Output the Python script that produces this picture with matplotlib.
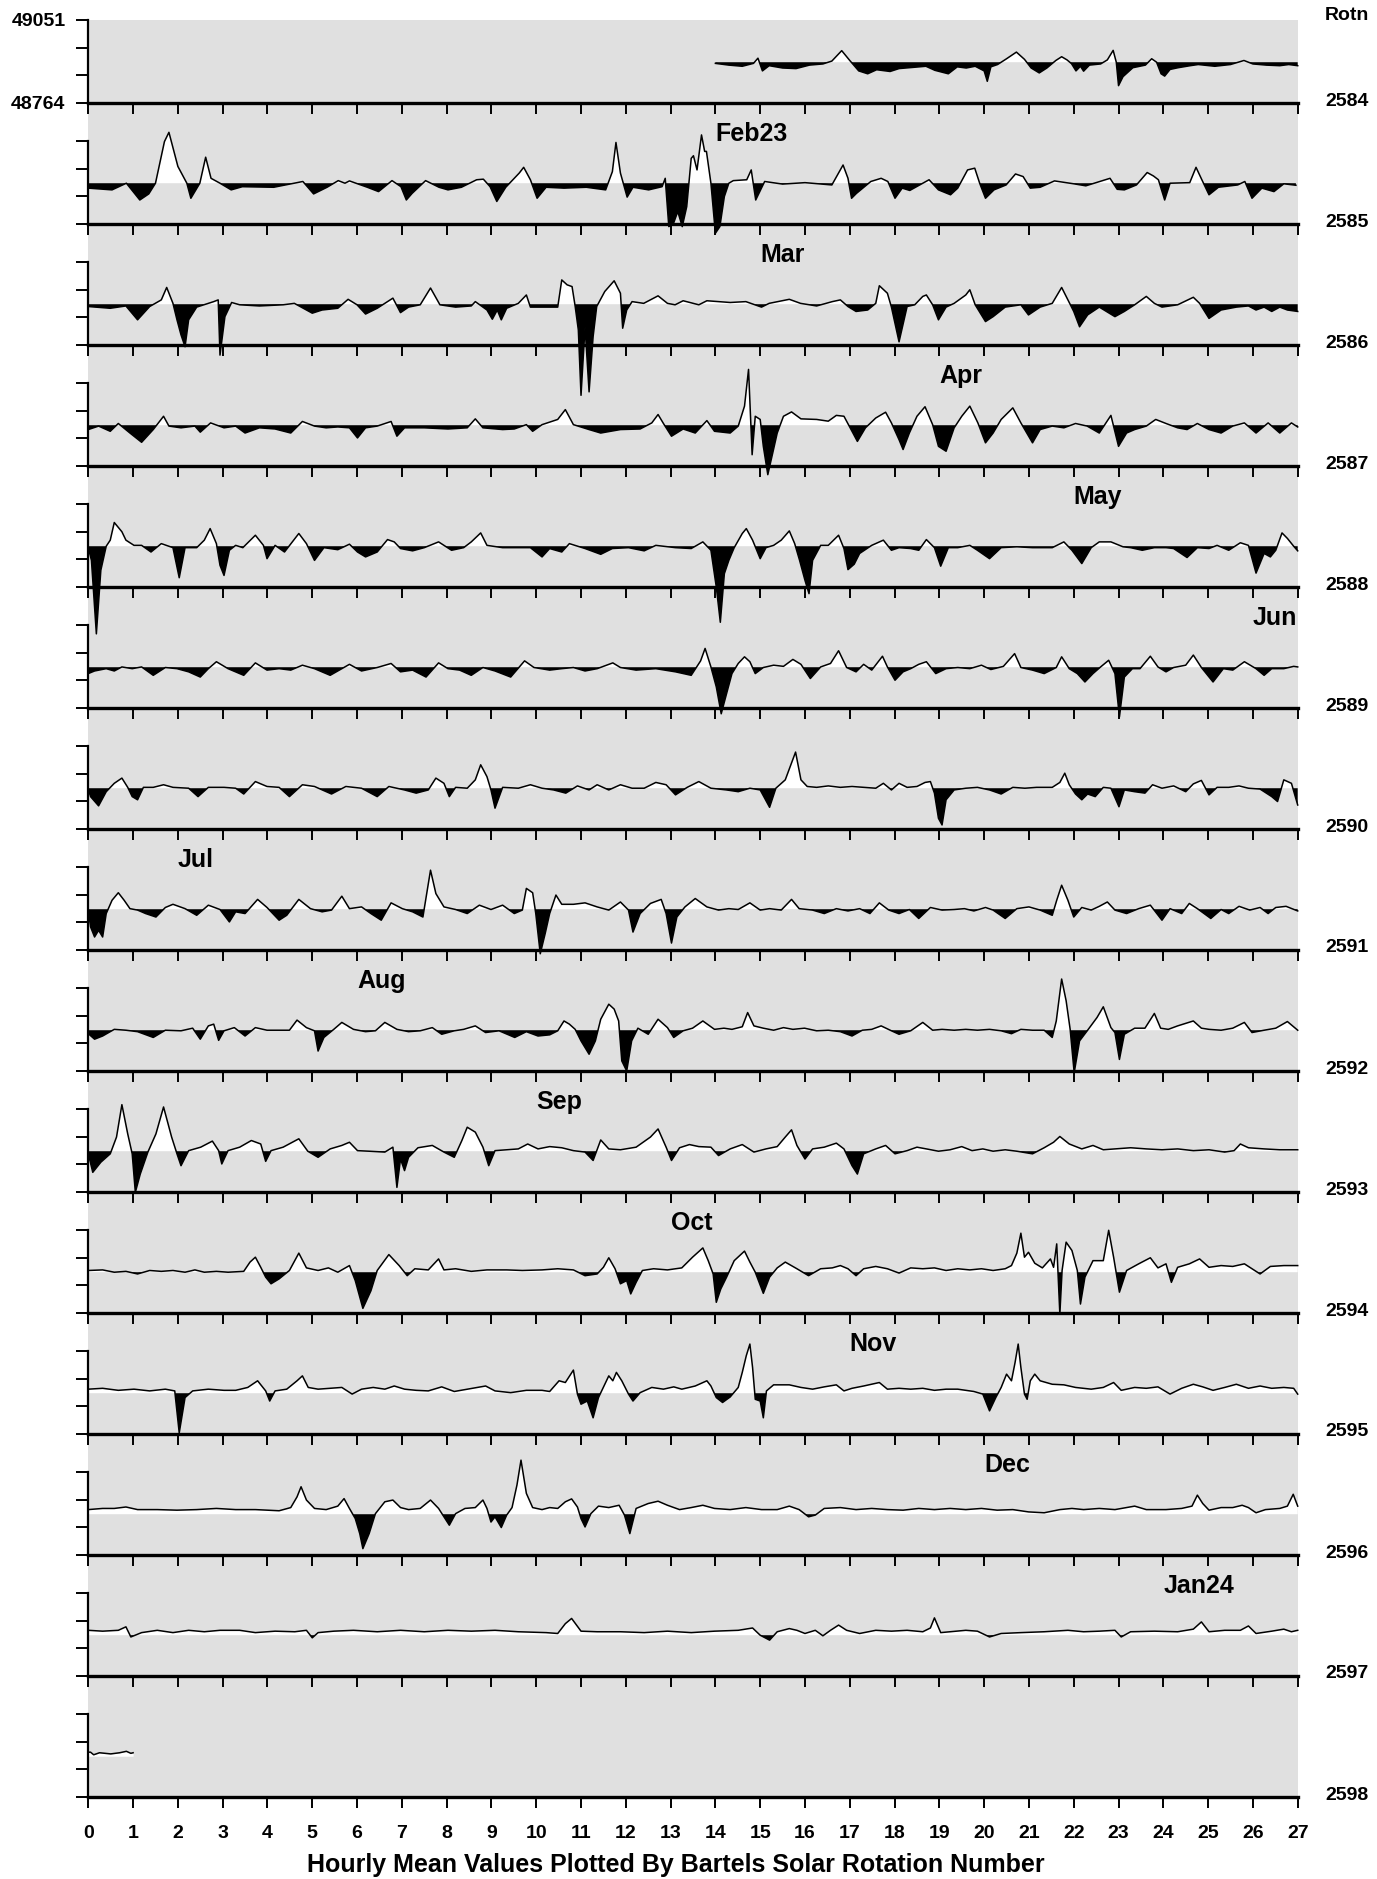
import numpy as np
import matplotlib
matplotlib.use('Agg')
import matplotlib.pyplot as plt
import matplotlib.transforms as mtransforms

plt.rcParams['font.family'] = ['Liberation Sans', 'DejaVu Sans']
plt.rcParams['font.weight'] = 'bold'

# axis scale (nT) and the quiet level the fills are drawn against
Y_LOW = 48764
Y_HIGH = 49051
BASELINE = 48905

ROTATIONS = list(range(2584, 2599))

MONTH_LABELS = ['Feb23', 'Mar', 'Apr', 'May', 'Jun', 'Jul', 'Aug', 'Sep', 'Oct', 'Nov', 'Dec', 'Jan24']
MONTH_ROTN = [2585, 2586, 2587, 2588, 2589, 2591, 2592, 2593, 2594, 2595, 2596, 2597]
MONTH_DAY = [14, 15, 19, 22, 26, 2, 6, 10, 13, 17, 20, 24]

# hourly trace: (day of rotation, deviation from baseline in nT)
rot_2584 = [(14.0, -4), (14.3, -10), (14.6, -14), (14.85, -4), (14.95, 14), (15.05, -30), (15.2, -12), (15.5, -20),
            (15.8, -22), (16.1, -10), (16.4, -6), (16.6, 4), (16.82, 40), (17.0, 6), (17.2, -30), (17.4, -40),
            (17.6, -26), (17.9, -32), (18.1, -22), (18.4, -18), (18.7, -14), (18.9, -28), (19.2, -40), (19.4, -16),
            (19.6, -20), (19.8, -14), (20.0, -30), (20.07, -66), (20.15, -16), (20.3, -8), (20.5, 12), (20.72, 35),
            (20.9, 10), (21.05, -20), (21.23, -37), (21.4, -20), (21.6, 6), (21.73, 19), (21.85, 8), (21.95, -5),
            (22.05, -30), (22.15, -14), (22.22, -31), (22.35, -10), (22.6, -6), (22.75, 8), (22.88, 41), (22.95, 0),
            (23.0, -81), (23.1, -50), (23.32, -19), (23.6, -10), (23.74, 12), (23.85, 0), (23.95, -40), (24.03, -48),
            (24.15, -25), (24.33, -19), (24.6, -12), (24.78, -8), (25.15, -14), (25.5, -8), (25.8, 6), (26.0, -6),
            (26.3, -10), (26.6, -12), (26.8, -8), (27.0, -12)]

rot_2585 = [(0, -17), (0.35, -21), (0.53, -23), (0.85, 0), (1.15, -58), (1.35, -37), (1.5, 0), (1.7, 144), (1.8, 176),
            (2.0, 58), (2.2, 0), (2.29, -52), (2.49, 0), (2.62, 90), (2.74, 17), (2.94, 0), (3.19, -23), (3.44, -12),
            (4.14, -14), (4.79, 6), (5.03, -37), (5.33, -14), (5.58, 9), (5.73, 0), (5.83, 8), (6.23, -14),
            (6.48, -29), (6.78, 9), (6.98, -12), (7.1, -58), (7.23, -35), (7.53, 9), (7.83, -14), (8.03, -23),
            (8.33, -14), (8.67, 12), (8.82, 14), (8.97, -12), (9.12, -63), (9.32, -14), (9.62, 35), (9.72, 55),
            (9.87, 12), (10.02, -52), (10.22, -14), (10.62, -17), (11.12, -14), (11.55, -23), (11.7, 40), (11.78, 141),
            (11.88, 35), (12.03, -48), (12.16, -14), (12.51, -23), (12.81, -12), (12.88, 17), (12.96, -150),
            (13.06, -141), (13.16, -98), (13.26, -150), (13.36, -81), (13.46, 86), (13.51, 95), (13.59, 46),
            (13.69, 167), (13.76, 110), (13.8, 110), (13.9, 0), (14.0, -173), (14.1, -150), (14.2, -46), (14.3, 0),
            (14.4, 9), (14.7, 12), (14.8, 46), (14.9, -58), (15.1, 6), (15.5, -3), (16.0, 2), (16.6, -6), (16.85, 63),
            (16.96, 17), (17.04, -52), (17.15, -35), (17.47, 6), (17.7, 17), (17.85, 6), (18.01, -52), (18.17, -17),
            (18.34, -25), (18.77, 12), (18.98, -23), (19.25, -40), (19.41, -17), (19.63, 46), (19.79, 52), (19.9, 0),
            (20.03, -52), (20.22, -23), (20.49, -6), (20.7, 32), (20.87, 23), (21.03, -17), (21.25, -14), (21.57, 8),
            (22.0, -2), (22.27, -9), (22.81, 17), (22.97, -21), (23.13, -23), (23.4, -6), (23.64, 37), (23.78, 25),
            (23.89, 12), (24.03, -58), (24.15, 0), (24.59, 2), (24.73, 55), (24.86, 12), (25.02, -40), (25.23, -14),
            (25.66, -6), (25.82, 6), (25.98, -52), (26.2, -17), (26.47, -29), (26.69, -2), (26.96, -7)]

rot_2586 = [(0, -8), (0.49, -14), (0.84, -6), (1.1, -54), (1.37, -8), (1.63, 15), (1.75, 58), (1.89, 3), (1.98, -54),
            (2.07, -106), (2.16, -147), (2.24, -54), (2.42, -10), (2.8, 9), (2.9, 15), (2.94, -176), (3.05, -43),
            (3.2, 6), (3.38, -2), (3.82, -6), (4.35, -2), (4.6, 3), (5.0, -31), (5.22, -20), (5.57, -14), (5.8, 17),
            (6.0, -2), (6.19, -34), (6.45, -14), (6.8, 21), (6.97, -29), (7.15, -10), (7.41, -2), (7.64, 56),
            (7.85, -2), (8.2, -10), (8.55, -6), (8.64, 9), (8.9, -20), (9.02, -52), (9.13, -20), (9.22, -54),
            (9.34, -14), (9.6, 3), (9.78, 32), (9.87, -10), (10.3, -10), (10.48, -10), (10.57, 84), (10.69, 67),
            (10.8, 61), (10.87, -8), (10.94, -89), (11.0, -315), (11.09, -78), (11.18, -303), (11.27, -112),
            (11.35, -8), (11.53, 44), (11.74, 81), (11.88, 38), (11.93, -83), (12.02, -20), (12.14, 9), (12.4, 3),
            (12.72, 29), (12.93, 3), (13.1, -2), (13.28, 12), (13.63, -2), (13.81, 12), (14.33, 6), (14.68, 9),
            (15.03, -10), (15.2, 3), (15.65, 17), (15.9, 3), (16.26, -6), (16.61, 9), (16.79, 15), (16.96, -8),
            (17.14, -25), (17.4, -20), (17.58, 3), (17.66, 64), (17.84, 38), (17.93, -10), (18.1, -130), (18.28, -8),
            (18.45, -2), (18.63, 27), (18.71, 32), (18.85, -2), (18.98, -54), (19.15, -10), (19.33, 3), (19.59, 32),
            (19.68, 50), (19.8, -2), (20.03, -60), (20.2, -43), (20.47, -10), (20.82, -2), (20.99, -37), (21.25, -10),
            (21.52, 3), (21.73, 58), (21.87, 15), (22.0, -25), (22.13, -78), (22.31, -37), (22.57, -10), (22.92, -43),
            (23.13, -25), (23.36, -2), (23.62, 27), (23.8, 3), (23.97, -10), (24.32, -2), (24.67, 24), (24.81, 3),
            (25.02, -49), (25.29, -20), (25.63, -10), (25.9, -6), (26.07, -20), (26.25, -10), (26.42, -25),
            (26.6, -10), (26.77, -20), (27.0, -25)]

rot_2587 = [(0, -15), (0.23, -3), (0.49, -21), (0.67, 6), (0.93, -27), (1.19, -59), (1.45, -15), (1.68, 31), (1.8, -3),
            (2.07, -9), (2.38, -3), (2.5, -24), (2.73, 8), (3.03, -9), (3.29, -3), (3.5, -27), (3.82, -9), (4.17, -13),
            (4.52, -27), (4.78, 13), (5.05, -3), (5.31, -9), (5.57, -6), (5.83, -9), (6.01, -44), (6.19, -9),
            (6.45, -3), (6.76, 13), (6.89, -38), (7.06, -9), (7.5, -9), (8.03, -13), (8.46, -9), (8.64, 22),
            (8.81, -9), (9.25, -15), (9.51, -13), (9.78, 2), (9.92, -21), (10.13, 2), (10.48, 20), (10.65, 54),
            (10.83, 2), (11.18, -15), (11.44, -27), (11.88, -15), (12.32, -13), (12.58, 8), (12.72, 37), (12.84, 6),
            (13.02, -38), (13.28, -13), (13.55, -27), (13.81, 16), (13.98, -21), (14.33, -27), (14.51, -3),
            (14.65, 66), (14.74, 193), (14.82, -102), (14.89, 31), (15.0, 20), (15.07, -73), (15.17, -171),
            (15.28, -96), (15.38, -27), (15.52, 31), (15.7, 46), (15.91, 22), (16.26, 20), (16.52, 14), (16.7, 34),
            (16.87, 31), (17.05, -21), (17.17, -56), (17.35, -9), (17.58, 25), (17.8, 45), (17.93, 8), (18.1, -50),
            (18.19, -84), (18.33, -27), (18.5, 31), (18.68, 64), (18.85, 2), (18.98, -73), (19.15, -90), (19.33, -9),
            (19.5, 31), (19.68, 66), (19.86, 8), (20.03, -61), (20.2, -27), (20.38, 20), (20.64, 60), (20.82, 8),
            (21.08, -61), (21.25, -15), (21.52, -3), (21.78, -9), (22.04, 6), (22.3, -3), (22.57, -27), (22.83, 34),
            (23.0, -73), (23.18, -27), (23.36, -15), (23.62, -3), (23.83, 20), (24.06, 6), (24.32, -9), (24.53, -15),
            (24.76, 6), (25.02, -15), (25.29, -27), (25.55, -3), (25.81, 8), (26.07, -27), (26.34, 8), (26.6, -27),
            (26.86, 8), (27.0, -6)]

rot_2588 = [(0, -5), (0.07, -49), (0.18, -303), (0.28, -83), (0.4, 0), (0.49, 21), (0.58, 82), (0.75, 50), (0.84, 21),
            (1.02, 3), (1.19, 3), (1.4, -20), (1.63, 9), (1.89, -5), (2.03, -109), (2.16, -5), (2.42, -5), (2.59, 21),
            (2.72, 61), (2.86, 9), (2.94, -66), (3.03, -101), (3.15, -14), (3.29, 3), (3.45, -5), (3.73, 38),
            (3.91, 3), (3.99, -43), (4.17, 3), (4.38, -20), (4.7, 44), (4.87, 9), (5.05, -49), (5.26, -5),
            (5.57, -12), (5.83, 7), (6.01, -20), (6.19, -37), (6.45, -20), (6.68, 23), (6.83, 15), (6.97, -8),
            (7.24, -16), (7.5, -5), (7.82, 15), (8.11, -14), (8.38, -5), (8.55, 15), (8.76, 46), (8.9, 3), (9.25, -5),
            (9.6, -5), (9.87, -5), (10.13, -37), (10.3, -8), (10.57, -20), (10.74, 9), (11.09, -8), (11.44, -28),
            (11.7, -8), (12.06, -5), (12.41, -16), (12.67, 3), (13.11, -5), (13.46, -8), (13.72, 15), (13.9, -14),
            (14.02, -141), (14.11, -263), (14.2, -95), (14.3, -49), (14.42, -5), (14.6, 44), (14.69, 61), (14.83, 21),
            (15.0, -43), (15.13, -5), (15.3, 3), (15.47, 21), (15.65, 53), (15.77, 9), (15.88, -49), (16.0, -118),
            (16.09, -164), (16.17, -49), (16.35, 3), (16.52, 3), (16.75, 38), (16.87, -8), (16.96, -81), (17.1, -62),
            (17.22, -25), (17.49, 3), (17.75, 21), (17.93, -14), (18.1, -5), (18.36, -8), (18.54, -14), (18.71, 23),
            (18.89, -5), (19.03, -69), (19.2, -5), (19.41, -5), (19.68, 3), (19.85, -14), (20.12, -43), (20.38, -5),
            (20.73, -2), (21.08, -5), (21.52, -5), (21.78, 15), (21.96, -14), (22.18, -60), (22.39, -5), (22.57, 15),
            (22.83, 15), (23.1, -2), (23.27, -5), (23.53, -14), (23.8, -5), (24.06, -5), (24.23, -8), (24.53, -39),
            (24.76, -5), (25.02, -8), (25.2, 3), (25.46, -14), (25.72, 12), (25.9, 3), (26.07, -93), (26.25, -25),
            (26.39, -37), (26.51, -14), (26.65, 46), (26.77, 27), (26.91, 0), (27.0, -16)]

rot_2589 = [(0, -22), (0.14, -13), (0.4, -5), (0.58, -13), (0.75, 1), (0.98, -5), (1.19, 1), (1.45, -28), (1.72, -1),
            (1.98, -5), (2.24, -16), (2.5, -34), (2.68, -5), (2.86, 19), (3.12, -5), (3.47, -28), (3.73, 15),
            (3.99, -10), (4.26, -5), (4.52, -10), (4.78, 7), (5.05, -5), (5.4, -28), (5.83, 10), (6.1, -13),
            (6.45, -1), (6.76, 13), (6.97, -16), (7.24, -10), (7.54, -34), (7.82, 15), (8.03, -5), (8.29, -10),
            (8.55, -28), (8.81, -1), (9.08, -13), (9.43, -34), (9.74, 22), (9.95, -1), (10.3, -10), (10.57, -5),
            (10.83, -1), (11.09, -13), (11.36, -5), (11.71, 15), (11.88, -1), (12.23, -10), (12.67, -5), (13.11, -16),
            (13.46, -28), (13.67, 22), (13.77, 65), (13.9, 1), (14.02, -68), (14.13, -161), (14.25, -91), (14.37, -22),
            (14.51, 13), (14.65, 36), (14.77, 19), (14.89, -22), (15.07, -1), (15.3, 7), (15.52, 3), (15.73, 27),
            (15.91, 10), (16.12, -39), (16.35, 1), (16.57, 13), (16.75, 57), (16.93, -1), (17.14, -16), (17.31, 10),
            (17.49, -10), (17.73, 38), (17.84, 1), (18.01, -45), (18.19, -16), (18.36, -5), (18.54, 10), (18.71, 19),
            (18.92, -22), (19.15, -5), (19.41, -1), (19.68, -5), (19.94, 7), (20.15, -8), (20.43, 3), (20.68, 47),
            (20.82, -1), (21.08, -10), (21.34, -22), (21.61, -1), (21.73, 36), (21.9, -5), (22.08, -22), (22.25, -51),
            (22.43, -22), (22.6, 1), (22.78, 24), (22.92, -22), (23.02, -172), (23.13, -34), (23.31, -5), (23.48, -5),
            (23.71, 38), (23.88, 1), (24.06, -16), (24.23, -1), (24.5, 7), (24.67, 42), (24.85, -1), (25.11, -51),
            (25.34, -5), (25.55, -10), (25.81, 19), (26.07, -5), (26.25, -28), (26.42, -5), (26.69, -5), (26.91, 3),
            (27.0, 1)]

rot_2590 = [(0, -3), (0.05, -29), (0.23, -61), (0.4, -12), (0.58, 17), (0.75, 35), (0.88, 3), (0.98, -29), (1.1, -40),
            (1.23, 3), (1.45, 3), (1.68, 12), (1.89, 3), (2.24, 0), (2.45, -29), (2.68, 3), (3.03, 3), (3.29, 0),
            (3.47, -20), (3.73, 23), (3.99, 6), (4.26, 3), (4.49, -29), (4.78, 12), (5.05, 6), (5.43, -20), (5.75, 6),
            (6.1, 0), (6.45, -29), (6.71, 6), (7.06, -6), (7.32, -17), (7.59, -6), (7.76, 35), (7.94, 17), (8.06, -29),
            (8.2, 3), (8.46, 0), (8.64, 29), (8.76, 81), (8.9, 40), (8.99, -6), (9.08, -69), (9.25, 3), (9.6, 0),
            (9.87, 12), (10.13, 0), (10.39, -6), (10.66, -17), (10.92, 8), (11.18, -6), (11.36, 12), (11.62, -6),
            (11.88, 12), (12.14, 0), (12.41, 0), (12.67, 20), (12.9, 12), (13.11, -23), (13.37, 3), (13.63, 23),
            (13.9, 0), (14.25, -6), (14.51, -12), (14.77, 0), (15.0, -6), (15.12, -40), (15.21, -66), (15.35, 0),
            (15.56, 29), (15.79, 125), (15.91, 29), (16.05, 6), (16.26, 3), (16.52, 8), (16.79, 3), (17.05, 6),
            (17.31, 3), (17.58, 0), (17.75, 17), (17.93, -6), (18.1, 17), (18.28, 3), (18.5, 6), (18.68, 20),
            (18.8, 23), (18.89, -17), (18.98, -104), (19.06, -127), (19.15, -40), (19.33, -6), (19.59, 0), (19.85, 3),
            (20.12, -6), (20.38, -20), (20.64, 3), (20.91, 0), (21.17, 3), (21.52, 3), (21.69, 20), (21.8, 52),
            (21.9, 12), (22.04, -20), (22.18, -40), (22.31, -20), (22.48, -29), (22.66, 3), (22.83, 0), (23.01, -64),
            (23.13, -6), (23.36, -12), (23.59, -17), (23.76, 12), (23.97, 0), (24.23, 8), (24.5, -12), (24.67, 15),
            (24.85, 27), (25.02, -23), (25.2, 3), (25.46, 3), (25.69, 8), (25.9, 0), (26.16, -3), (26.42, -29),
            (26.55, -46), (26.69, 29), (26.86, 17), (27.0, -58)]

rot_2591 = [(0, -3), (0.05, -61), (0.14, -96), (0.23, -73), (0.32, -96), (0.4, -15), (0.53, 31), (0.67, 57), (0.8, 31),
            (0.93, 2), (1.1, -3), (1.28, -15), (1.51, -27), (1.72, 6), (1.89, 17), (2.16, 2), (2.42, -21), (2.68, 14),
            (2.94, -1), (3.15, -44), (3.29, -9), (3.5, -15), (3.78, 34), (3.99, 6), (4.26, -38), (4.43, -21),
            (4.7, 34), (4.96, 2), (5.22, -9), (5.43, -3), (5.66, 45), (5.83, 2), (6.1, 8), (6.31, -15), (6.54, -38),
            (6.76, 22), (7.01, 2), (7.24, -9), (7.47, -27), (7.64, 135), (7.76, 54), (7.94, 8), (8.2, -1), (8.46, -15),
            (8.73, 14), (8.99, -1), (9.25, 14), (9.51, -15), (9.69, -3), (9.78, 72), (9.92, 57), (9.99, -15),
            (10.09, -154), (10.2, -84), (10.3, -15), (10.44, 49), (10.57, 17), (10.83, 17), (11.09, 22), (11.36, 8),
            (11.62, -3), (11.88, 25), (12.06, -3), (12.16, -79), (12.32, -15), (12.55, 20), (12.79, 34), (12.9, -15),
            (13.02, -117), (13.14, -27), (13.32, 8), (13.55, 37), (13.81, 8), (14.07, -3), (14.3, 2), (14.51, -1),
            (14.77, 22), (15.0, -3), (15.21, 2), (15.47, -3), (15.7, 34), (15.87, 2), (16.17, -3), (16.43, -15),
            (16.7, 2), (16.96, -6), (17.22, 2), (17.45, -15), (17.66, 22), (17.87, -3), (18.1, -15), (18.33, -1),
            (18.54, -32), (18.8, 6), (19.06, -3), (19.33, -1), (19.56, 2), (19.77, -6), (20.03, 6), (20.2, -3),
            (20.47, -32), (20.73, 2), (21.0, 8), (21.25, -3), (21.52, -21), (21.62, 31), (21.73, 83), (21.87, 31),
            (22.0, -27), (22.18, 6), (22.39, -3), (22.57, 10), (22.75, 25), (22.92, -3), (23.18, -15), (23.45, 2),
            (23.71, 14), (23.97, -38), (24.15, 2), (24.41, -15), (24.58, 20), (24.76, 2), (25.06, -32), (25.29, -1),
            (25.46, -15), (25.69, 10), (25.93, -3), (26.16, 6), (26.34, -15), (26.51, 6), (26.74, 10), (27.0, -6)]

rot_2592 = [(0, -12), (0.14, -31), (0.32, -20), (0.58, 3), (0.84, 0), (1.1, -5), (1.45, -25), (1.72, 0), (2.07, -2),
            (2.33, 7), (2.5, -31), (2.68, 15), (2.8, 21), (2.91, -35), (3.03, -2), (3.26, 9), (3.5, -20), (3.73, 9),
            (3.99, 0), (4.26, 0), (4.49, 0), (4.66, 35), (4.87, 9), (5.05, -2), (5.13, -72), (5.26, -25), (5.48, 3),
            (5.66, 27), (5.92, 3), (6.19, -5), (6.41, -2), (6.62, 27), (6.89, 3), (7.15, -5), (7.41, -2), (7.68, 9),
            (7.89, -14), (8.17, -2), (8.38, 3), (8.64, 15), (8.87, -8), (9.17, -2), (9.52, -25), (9.78, -5),
            (10.04, -20), (10.3, -16), (10.48, -2), (10.62, 32), (10.74, 21), (10.87, 3), (11.0, -37), (11.18, -83),
            (11.32, -37), (11.44, 38), (11.62, 90), (11.74, 73), (11.84, 32), (11.91, -106), (12.02, -141),
            (12.13, -37), (12.27, 7), (12.5, -14), (12.72, 38), (12.93, 9), (13.07, -25), (13.28, -2), (13.49, 7),
            (13.72, 32), (13.98, 3), (14.19, 7), (14.37, 3), (14.6, 12), (14.72, 61), (14.86, 15), (15.07, 7),
            (15.3, 0), (15.52, 9), (15.73, 3), (15.99, 7), (16.26, -2), (16.52, 0), (16.79, -5), (17.05, -20),
            (17.28, 0), (17.49, 3), (17.7, 15), (17.93, -2), (18.1, -14), (18.36, -2), (18.63, 27), (18.85, 0),
            (19.06, 3), (19.33, 0), (19.59, 3), (19.85, 0), (20.12, 3), (20.38, -2), (20.61, -12), (20.82, 3),
            (21.08, 0), (21.34, 0), (21.52, -25), (21.61, 32), (21.73, 177), (21.83, 102), (21.92, 3), (22.01, -147),
            (22.13, -37), (22.31, 0), (22.52, 44), (22.66, 81), (22.83, 9), (22.92, -8), (23.02, -101), (23.13, -14),
            (23.36, 7), (23.59, 7), (23.8, 58), (23.94, 7), (24.11, 3), (24.32, 15), (24.67, 32), (24.85, 7),
            (25.02, 3), (25.29, 0), (25.55, 7), (25.81, 27), (25.98, -8), (26.25, 0), (26.51, 7), (26.77, 30),
            (27.0, 0)]

rot_2593 = [(0, -9), (0.1, -73), (0.28, -38), (0.49, -9), (0.63, 49), (0.75, 161), (0.88, 60), (0.98, -9),
            (1.05, -142), (1.16, -79), (1.33, -3), (1.51, 60), (1.68, 153), (1.86, 49), (1.98, -9), (2.07, -50),
            (2.24, 2), (2.51, 14), (2.77, 35), (2.91, 2), (2.98, -44), (3.12, 2), (3.38, 14), (3.64, 37), (3.85, 25),
            (3.96, -35), (4.08, 2), (4.35, 14), (4.7, 43), (4.9, 0), (5.13, -21), (5.4, 8), (5.66, 20), (5.83, 31),
            (6.01, 2), (6.27, 0), (6.62, -3), (6.8, 14), (6.89, -125), (6.97, -27), (7.06, -67), (7.15, -21),
            (7.36, 12), (7.68, 20), (7.94, -3), (8.17, -21), (8.34, 37), (8.46, 83), (8.64, 66), (8.81, 14),
            (8.94, -50), (9.08, 2), (9.34, 5), (9.6, 8), (9.81, 25), (10.04, 8), (10.3, 16), (10.57, 12), (10.83, 2),
            (11.09, -3), (11.27, -32), (11.44, 39), (11.62, 8), (11.88, 5), (12.23, 14), (12.55, 49), (12.72, 77),
            (12.9, 14), (13.02, -32), (13.2, 12), (13.42, 23), (13.63, 16), (13.9, 14), (14.07, -15), (14.33, 8),
            (14.6, 23), (14.86, -3), (15.13, 8), (15.38, 16), (15.56, 49), (15.7, 74), (15.82, 20), (16.0, -27),
            (16.17, 8), (16.43, 14), (16.7, 28), (16.87, 8), (17.05, -50), (17.17, -79), (17.31, -9), (17.58, 8),
            (17.8, 20), (18.01, -9), (18.28, 2), (18.5, 14), (18.71, 8), (18.98, 0), (19.24, 5), (19.5, 16),
            (19.73, 2), (19.97, 8), (20.2, 0), (20.47, 5), (20.73, 0), (21.08, -9), (21.34, 12), (21.55, 31),
            (21.69, 51), (21.9, 25), (22.18, 8), (22.43, 20), (22.66, 5), (22.92, 8), (23.27, 12), (23.62, 8),
            (23.97, 5), (24.32, 8), (24.67, 2), (25.02, 5), (25.37, -3), (25.58, 2), (25.72, 25), (25.9, 12),
            (26.25, 8), (26.6, 5), (27.0, 5)]

rot_2594 = [(0, 6), (0.32, 8), (0.58, 0), (0.84, 3), (1.1, -6), (1.37, 6), (1.63, 3), (1.89, 6), (2.16, 0), (2.38, 8),
            (2.59, 0), (2.86, 3), (3.12, 0), (3.47, 3), (3.61, 35), (3.73, 52), (3.85, 17), (3.96, -17), (4.08, -40),
            (4.26, -23), (4.49, 6), (4.7, 66), (4.87, 15), (5.13, 6), (5.36, 15), (5.57, 0), (5.83, 23), (5.96, -29),
            (6.13, -125), (6.31, -64), (6.45, 6), (6.71, 61), (6.94, 23), (7.12, -12), (7.29, 12), (7.59, 8),
            (7.82, 46), (7.94, 8), (8.2, 12), (8.55, 3), (8.9, 8), (9.34, 8), (9.69, 6), (10.13, 8), (10.48, 12),
            (10.83, 8), (11.09, -12), (11.36, -6), (11.5, 17), (11.62, 50), (11.76, 12), (11.88, -40), (12.02, -29),
            (12.11, -75), (12.23, -35), (12.37, 6), (12.62, 12), (12.93, 8), (13.25, 15), (13.49, 52), (13.72, 84),
            (13.84, 40), (13.95, -6), (14.02, -104), (14.12, -58), (14.25, -17), (14.42, 40), (14.65, 73), (14.77, 35),
            (14.89, 0), (15.07, -73), (15.21, -17), (15.38, 15), (15.56, 35), (15.82, 12), (16.08, -12), (16.35, 12),
            (16.61, 15), (16.79, 23), (16.96, 12), (17.14, -12), (17.31, 12), (17.58, 20), (17.84, 12), (18.1, -3),
            (18.36, 15), (18.63, 12), (18.89, 15), (19.15, 6), (19.41, 12), (19.68, 8), (19.94, 12), (20.2, 6),
            (20.47, 12), (20.61, 23), (20.73, 66), (20.82, 135), (20.9, 52), (20.99, 69), (21.13, 31), (21.3, 15),
            (21.48, 46), (21.55, 17), (21.62, 98), (21.69, -145), (21.74, 6), (21.83, 104), (21.96, 75), (22.08, 6),
            (22.15, -110), (22.25, -17), (22.43, 40), (22.66, 40), (22.78, 145), (22.89, 52), (23.02, -69),
            (23.18, 6), (23.45, 29), (23.71, 50), (23.88, 15), (24.06, 29), (24.18, -35), (24.32, 17), (24.58, 29),
            (24.81, 46), (25.02, 17), (25.29, 23), (25.55, 20), (25.81, 29), (25.98, 12), (26.16, -6), (26.39, 20),
            (26.69, 23), (27.0, 23)]

rot_2595 = [(0, 14), (0.32, 17), (0.67, 10), (1.02, 14), (1.37, 8), (1.72, 14), (1.93, 8), (2.03, -137), (2.16, -15),
            (2.33, 8), (2.68, 14), (3.03, 10), (3.29, 10), (3.56, 20), (3.78, 43), (3.96, 8), (4.05, -27), (4.17, 8),
            (4.43, 14), (4.66, 43), (4.78, 60), (4.91, 20), (5.13, 14), (5.4, 17), (5.66, 20), (5.89, -3), (6.1, 14),
            (6.36, 20), (6.62, 14), (6.83, 25), (7.06, 14), (7.32, 10), (7.59, 8), (7.89, 22), (8.17, 6), (8.46, 14),
            (8.87, 25), (9.08, 8), (9.43, 2), (9.78, 10), (10.13, 10), (10.3, 6), (10.51, 43), (10.65, 37),
            (10.83, 80), (10.92, -3), (11.0, -38), (11.14, -27), (11.27, -85), (11.39, -15), (11.53, 31), (11.62, 60),
            (11.71, 43), (11.79, 72), (11.91, 43), (12.06, -3), (12.16, -27), (12.32, 2), (12.58, 20), (12.84, 14),
            (13.07, 22), (13.25, 14), (13.55, 25), (13.81, 43), (13.9, 25), (14.02, -15), (14.16, -32), (14.33, -13),
            (14.51, 20), (14.6, 72), (14.69, 130), (14.77, 170), (14.83, 89), (14.89, -21), (15.0, -27), (15.07, -85),
            (15.14, 8), (15.3, 29), (15.65, 29), (15.91, 20), (16.17, 14), (16.43, 22), (16.7, 29), (16.87, 8),
            (17.05, 17), (17.31, 25), (17.66, 37), (17.84, 14), (18.1, 17), (18.36, 14), (18.63, 17), (18.89, 10),
            (19.15, 14), (19.41, 14), (19.77, 6), (19.97, -3), (20.12, -61), (20.26, -15), (20.38, 20), (20.5, 66),
            (20.61, 43), (20.69, 106), (20.76, 170), (20.82, 89), (20.9, -3), (20.96, -21), (21.03, 43), (21.13, 66),
            (21.25, 43), (21.52, 31), (21.78, 29), (22.04, 20), (22.39, 14), (22.66, 20), (22.89, 37), (23.06, 10),
            (23.36, 20), (23.62, 17), (23.88, 22), (24.15, -3), (24.41, 17), (24.67, 31), (24.88, 22), (25.11, 10),
            (25.37, 20), (25.63, 31), (25.9, 17), (26.16, 25), (26.42, 17), (26.69, 20), (26.91, 17), (27.0, -3)]

rot_2596 = [(0, 16), (0.32, 20), (0.58, 20), (0.84, 25), (1.1, 16), (1.54, 16), (1.98, 14), (2.42, 16), (2.86, 20),
            (3.29, 16), (3.73, 16), (4.26, 12), (4.52, 23), (4.66, 60), (4.75, 95), (4.87, 49), (5.05, 20), (5.31, 16),
            (5.57, 28), (5.71, 54), (5.83, 20), (5.96, -15), (6.06, -67), (6.13, -119), (6.27, -67), (6.41, 2),
            (6.62, 43), (6.8, 49), (6.97, 23), (7.15, 16), (7.41, 20), (7.64, 49), (7.82, 20), (7.94, -9), (8.06, -38),
            (8.2, 2), (8.41, 20), (8.64, 23), (8.81, 49), (8.9, 20), (8.99, -27), (9.08, -9), (9.22, -46), (9.34, -3),
            (9.46, 23), (9.57, 101), (9.66, 187), (9.78, 72), (9.92, 23), (10.13, 16), (10.3, 23), (10.48, 20),
            (10.65, 43), (10.79, 53), (10.92, 25), (11.0, -15), (11.09, -44), (11.22, 2), (11.39, 28), (11.62, 23),
            (11.85, 31), (11.97, -3), (12.09, -67), (12.23, 20), (12.5, 37), (12.72, 45), (12.93, 31), (13.2, 16),
            (13.46, 23), (13.72, 31), (13.98, 20), (14.33, 16), (14.68, 23), (15.03, 16), (15.38, 16), (15.65, 28),
            (15.87, 16), (16.08, -9), (16.23, -3), (16.43, 20), (16.79, 23), (17.14, 16), (17.49, 20), (17.84, 16),
            (18.19, 14), (18.54, 20), (18.89, 16), (19.24, 20), (19.59, 16), (19.94, 20), (20.29, 14), (20.64, 16),
            (20.99, 8), (21.34, 5), (21.69, 16), (21.96, 20), (22.22, 16), (22.57, 20), (22.92, 16), (23.36, 28),
            (23.62, 16), (24.06, 16), (24.41, 20), (24.64, 28), (24.76, 66), (24.88, 37), (25.02, 14), (25.29, 23),
            (25.55, 23), (25.76, 31), (25.9, 23), (26.07, 5), (26.28, 16), (26.6, 20), (26.77, 28), (26.9, 69),
            (27.0, 28)]

rot_2597 = [(0, 17), (0.32, 14), (0.67, 17), (0.84, 29), (0.95, -6), (1.19, 9), (1.54, 17), (1.89, 9), (2.24, 17),
            (2.59, 12), (2.94, 17), (3.38, 17), (3.73, 9), (4.17, 14), (4.61, 12), (4.87, 17), (5.0, -9), (5.13, 9),
            (5.48, 14), (5.92, 17), (6.45, 12), (6.97, 17), (7.5, 12), (8.03, 17), (8.55, 14), (9.08, 17), (9.6, 12),
            (10.22, 9), (10.48, 6), (10.65, 40), (10.79, 58), (11.0, 14), (11.36, 12), (11.88, 12), (12.41, 9),
            (12.93, 14), (13.46, 9), (13.98, 14), (14.51, 17), (14.83, 25), (15.0, 0), (15.21, -17), (15.38, 12),
            (15.65, 23), (15.82, 17), (16.0, 6), (16.23, 17), (16.4, -2), (16.57, 17), (16.75, 35), (16.93, 17),
            (17.22, 6), (17.58, 17), (17.93, 14), (18.28, 17), (18.63, 12), (18.8, 25), (18.89, 60), (19.03, 9),
            (19.24, 12), (19.59, 17), (19.85, 14), (20.12, -6), (20.38, 6), (20.82, 9), (21.34, 12), (21.87, 17),
            (22.22, 12), (22.57, 14), (22.92, 17), (23.06, -6), (23.27, 12), (23.8, 14), (24.32, 12), (24.67, 21),
            (24.85, 46), (25.02, 12), (25.37, 17), (25.72, 17), (25.9, 32), (26.07, 6), (26.42, 14), (26.69, 21),
            (26.86, 12), (27.0, 17)]

rot_2598 = [(0, 14), (0.05, 14), (0.12, 5), (0.25, 12), (0.5, 8), (0.7, 12), (0.85, 17), (0.95, 10), (1.0, 12)]

TRACES = [rot_2584, rot_2585, rot_2586, rot_2587, rot_2588, rot_2589, rot_2590, rot_2591,
          rot_2592, rot_2593, rot_2594, rot_2595, rot_2596, rot_2597, rot_2598]

# layout in pixels of the 1377 x 1879 canvas
W, H = 1377, 1879
X0, X1 = 88.3, 1297.7
FIRST_TOP, FIRST_BOTTOM, STEP = 20.0, 103.0, 121.0
NT_PER_PX = (Y_HIGH - Y_LOW) / (FIRST_BOTTOM - FIRST_TOP)


def main():
    fig = plt.figure(figsize=(W / 100, H / 100), dpi=100)
    n = len(ROTATIONS)
    axes = []
    for k, rot in enumerate(ROTATIONS):
        bottom_px = FIRST_BOTTOM + STEP * k
        top_px = FIRST_TOP if k == 0 else bottom_px - STEP
        ax = fig.add_axes([X0 / W, 1 - bottom_px / H, (X1 - X0) / W, (bottom_px - top_px) / H])
        ax.set_zorder(n - k)
        ax.set_facecolor('#e0e0e0')
        ax.set_xlim(0, 27)
        ax.set_ylim(Y_LOW, Y_LOW + (bottom_px - top_px) * NT_PER_PX)

        for side in ['top', 'right']:
            ax.spines[side].set_visible(False)
        ax.spines['bottom'].set_linewidth(2.4)
        ax.spines['left'].set_linewidth(1.6)
        ax.spines['left'].set_bounds(Y_LOW, Y_HIGH)

        ax.set_xticks(range(28))
        ax.set_yticks(np.linspace(Y_LOW, Y_HIGH, 4))
        ax.tick_params(axis='x', direction='out', length=8, width=1.4, pad=12, labelsize=14)
        ax.tick_params(axis='y', direction='out', length=8.5, width=1.4, pad=8, labelsize=14)
        if k == n - 1:
            ax.set_xticklabels([str(d) for d in range(28)], fontweight='bold')
        else:
            ax.set_xticklabels([])
        if k == 0:
            ax.set_yticklabels([str(Y_LOW), '', '', str(Y_HIGH)], fontweight='bold')
        else:
            ax.set_yticklabels([])

        days = np.array([p[0] for p in TRACES[k]])
        vals = BASELINE + np.array([p[1] for p in TRACES[k]])
        ax.fill_between(days, vals, BASELINE, where=vals <= BASELINE, interpolate=True,
                        color='black', lw=0, clip_on=False, zorder=2)
        ax.fill_between(days, vals, BASELINE, where=vals >= BASELINE, interpolate=True,
                        color='white', lw=0, clip_on=False, zorder=2)
        ax.plot(days, vals, color='black', lw=1.1, clip_on=False, zorder=3)

        trans = mtransforms.blended_transform_factory(ax.transAxes, ax.transData)
        ax.text(1.0226, Y_LOW + 2 * NT_PER_PX, str(rot), transform=trans,
                ha='left', va='center', fontsize=14, fontweight='bold')
        axes.append(ax)

    for label, rot, day in zip(MONTH_LABELS, MONTH_ROTN, MONTH_DAY):
        ax = axes[ROTATIONS.index(rot)]
        ax.text(day, Y_LOW + 90 * NT_PER_PX, label, ha='left', va='center',
                fontsize=18, fontweight='bold')

    fig.text(1325 / W, 1 - 15 / H, 'Rotn', ha='left', va='center', fontsize=14, fontweight='bold')
    fig.text(676 / W, 1 - 1865 / H, 'Hourly Mean Values Plotted By Bartels Solar Rotation Number',
             ha='center', va='center', fontsize=18, fontweight='bold')

    fig.savefig('out.png', dpi=100, facecolor='white')


if __name__ == '__main__':
    main()
